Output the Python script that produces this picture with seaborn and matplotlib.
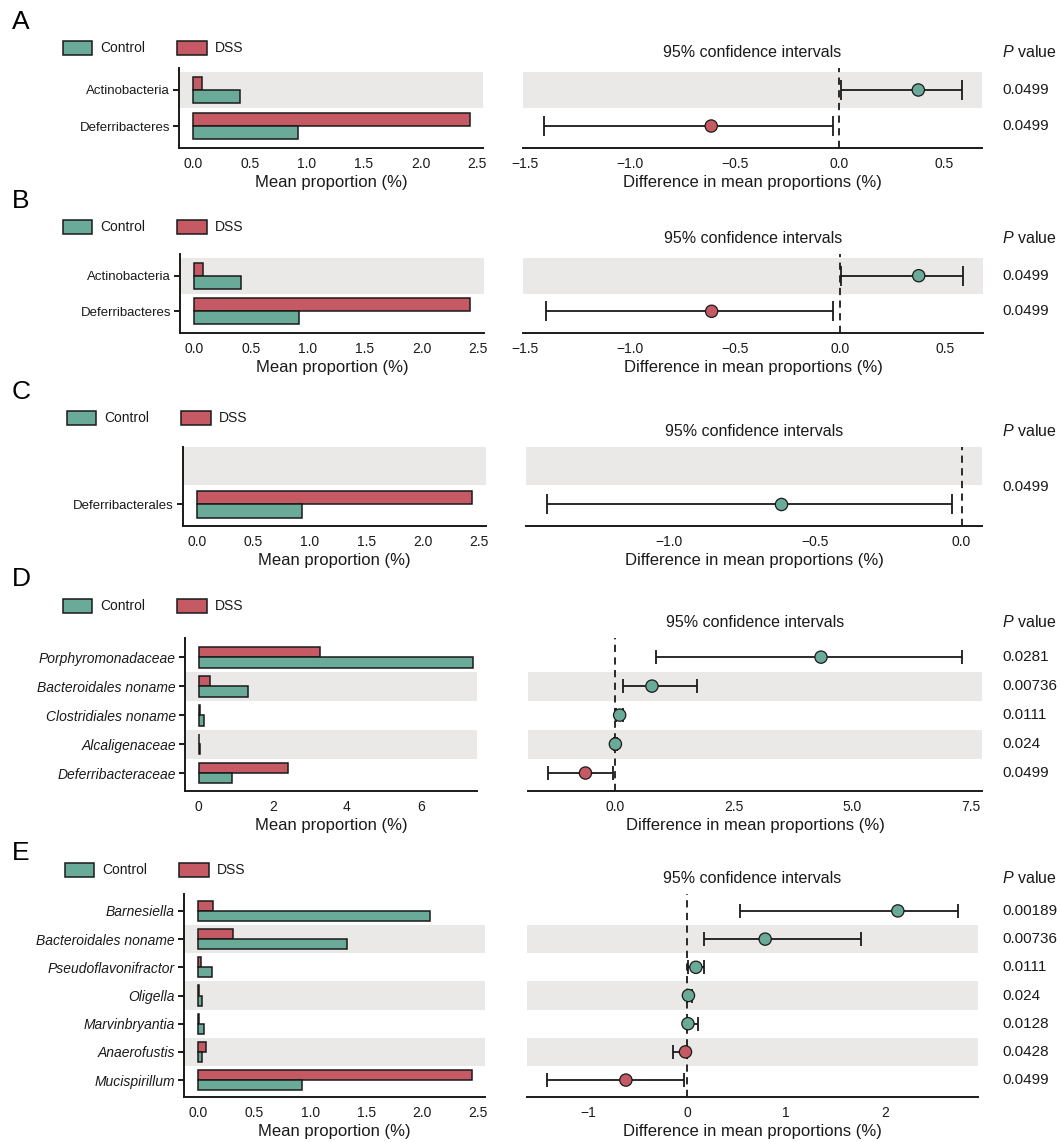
import numpy as np
import pandas as pd
import matplotlib
matplotlib.use("Agg")
import matplotlib.pyplot as plt
import matplotlib.transforms as mtransforms
from matplotlib.patches import Patch
import seaborn as sns

sns.set_theme(style="white")
plt.rcParams["font.family"] = ["Liberation Sans", "DejaVu Sans"]
plt.rcParams["mathtext.fontset"] = "custom"
plt.rcParams["mathtext.it"] = "Liberation Sans:italic"
plt.rcParams["mathtext.rm"] = "Liberation Sans"
plt.rcParams["axes.unicode_minus"] = True

GROUPS = ["Control", "DSS"]
COLORS = {"Control": "#6aaa98", "DSS": "#c55a65"}
BAND = "#ebe8e8"
INK = "#1a1a1a"

# ---- A: phylum level ----
phylum_taxa = ["Actinobacteria", "Deferribacteres"]
phylum_control = [0.41, 0.92]
phylum_dss = [0.08, 2.44]
phylum_diff = [0.376, -0.612]
phylum_ci_low = [0.005, -1.41]
phylum_ci_high = [0.586, -0.033]
phylum_p = ["0.0499", "0.0499"]
phylum_enriched = ["Control", "DSS"]

# ---- B: class level ----
class_taxa = ["Actinobacteria", "Deferribacteres"]
class_control = [0.41, 0.925]
class_dss = [0.08, 2.43]
class_diff = [0.374, -0.612]
class_ci_low = [0.005, -1.40]
class_ci_high = [0.583, -0.035]
class_p = ["0.0499", "0.0499"]
class_enriched = ["Control", "DSS"]

# ---- C: order level ----
order_taxa = ["Deferribacterales"]
order_control = [0.93]
order_dss = [2.44]
order_diff = [-0.617]
order_ci_low = [-1.415]
order_ci_high = [-0.034]
order_p = ["0.0499"]
order_enriched = ["Control"]

# ---- D: family level ----
family_taxa = ["Porphyromonadaceae", "Bacteroidales noname", "Clostridiales noname",
               "Alcaligenaceae", "Deferribacteraceae"]
family_control = [7.40, 1.33, 0.13, 0.04, 0.91]
family_dss = [3.28, 0.31, 0.03, 0.01, 2.42]
family_diff = [4.34, 0.78, 0.10, 0.01, -0.62]
family_ci_low = [0.87, 0.18, 0.02, -0.01, -1.40]
family_ci_high = [7.30, 1.73, 0.18, 0.05, -0.03]
family_p = ["0.0281", "0.00736", "0.0111", "0.024", "0.0499"]
family_enriched = ["Control", "Control", "Control", "Control", "DSS"]

# ---- E: genus level ----
genus_taxa = ["Barnesiella", "Bacteroidales noname", "Pseudoflavonifractor", "Oligella",
              "Marvinbryantia", "Anaerofustis", "Mucispirillum"]
genus_control = [2.07, 1.33, 0.12, 0.03, 0.054, 0.03, 0.925]
genus_dss = [0.128, 0.31, 0.024, 0.009, 0.005, 0.071, 2.44]
genus_diff = [2.13, 0.79, 0.09, 0.015, 0.01, -0.015, -0.617]
genus_ci_low = [0.54, 0.17, 0.01, 0.0, 0.0, -0.145, -1.416]
genus_ci_high = [2.74, 1.76, 0.175, 0.055, 0.11, 0.0, -0.035]
genus_p = ["0.00189", "0.00736", "0.0111", "0.024", "0.0128", "0.0428", "0.0499"]
genus_enriched = ["Control"] * 5 + ["DSS"] * 2

W, H = 1061, 1142
fig = plt.figure(figsize=(W / 100, H / 100), dpi=100)


def px_axes(x0, x1, y0, y1):
    return fig.add_axes([x0 / W, 1 - y1 / H, (x1 - x0) / W, (y1 - y0) / H])


def style_axis(ax, left_spine, ylabel_size=9.5):
    for side in ("top", "right"):
        ax.spines[side].set_visible(False)
    ax.spines["left"].set_visible(left_spine)
    for side in ("left", "bottom"):
        ax.spines[side].set_linewidth(1.4)
        ax.spines[side].set_color(INK)
    ax.tick_params(axis="x", length=4, width=1.3, pad=2.5, labelsize=10,
                   color=INK, labelcolor=INK)
    ax.tick_params(axis="y", length=4.5, width=1.4, pad=2, labelsize=ylabel_size,
                   color=INK, labelcolor=INK, left=left_spine)
    ax.grid(False)


def draw_panel(letter, taxa, control, dss, diff, lo, hi, pvals, enriched, lay, italic=False):
    n_empty = lay.get("empty_rows", 0)
    order = [""] * n_empty + list(taxa)
    nrows = len(order)
    rows = np.arange(n_empty, nrows)
    y0, y1 = lay["y"]
    axl = px_axes(*lay["left"], y0, y1)
    axr = px_axes(*lay["right"], y0, y1)

    # alternating shaded rows
    for ax in (axl, axr):
        for i in range(nrows):
            if (nrows - 1 - i) % 2 == 1:
                ax.axhspan(i - 0.5, i + 0.5, color=BAND, lw=0, zorder=0)

    # mean proportions per group
    df = pd.DataFrame({
        "taxon": list(taxa) * 2,
        "group": ["Control"] * len(taxa) + ["DSS"] * len(taxa),
        "mean": list(control) + list(dss),
    })
    sns.barplot(data=df, x="mean", y="taxon", hue="group", order=order,
                hue_order=["DSS", "Control"], palette=COLORS, orient="h",
                width=0.72, gap=0, saturation=1, edgecolor=INK, linewidth=1.1,
                errorbar=None, legend=False, ax=axl, zorder=2)
    axl.set_xlim(*lay["xl"])
    axl.set_ylim(*lay["ylim"])
    axl.set_xticks(lay["xl_ticks"])
    axl.set_yticks(rows, taxa, fontstyle="italic" if italic else "normal")
    axl.set_ylabel("")
    axl.set_xlabel("Mean proportion (%)", fontsize=12, color=INK, labelpad=3)
    style_axis(axl, True, 10 if italic else 9.5)

    # difference in mean proportions with 95% CI
    diff = np.asarray(diff)
    err = [diff - np.asarray(lo), np.asarray(hi) - diff]
    axr.axvline(0, color=INK, lw=1.3, ls=(0, (4, 3)), zorder=2)
    axr.errorbar(diff, rows, xerr=err, fmt="none", ecolor=INK, elinewidth=1.3,
                 capsize=lay["cap"], capthick=1.3, zorder=3)
    sns.scatterplot(x=diff, y=rows, hue=list(enriched), palette=COLORS, s=78,
                    edgecolor=INK, linewidth=0.9, zorder=4, legend=False, ax=axr)
    axr.set_xlim(*lay["xr"])
    axr.set_ylim(*lay["ylim"])
    axr.set_xticks(lay["xr_ticks"])
    axr.set_yticks([])
    axr.set_ylabel("")
    axr.set_xlabel("Difference in mean proportions (%)", fontsize=12, color=INK, labelpad=3)
    style_axis(axr, False)
    axr.annotate("95% confidence intervals", xy=(0.5, 1), xycoords="axes fraction",
                 xytext=(0, 11.5), textcoords="offset points", ha="center", va="center",
                 fontsize=11.5, color=INK)

    # p values column
    tr = mtransforms.blended_transform_factory(fig.transFigure, axr.transData)
    p_shift = lay.get("p_shift", 0.0)
    for r, p in zip(rows, pvals):
        axr.text(1002 / W, r + p_shift, p, transform=tr, ha="left", va="center",
                 fontsize=11, color=INK)
    fig.text(1002 / W, 1 - (y0 - 16) / H, r"$\mathit{P}$ value", ha="left", va="center",
             fontsize=11.5, color=INK)

    # panel letter and legend
    fig.text(12 / W, 1 - lay["letter_y"] / H, letter, fontsize=19, ha="left", va="center",
             color="black")
    handles = [Patch(facecolor=COLORS[g], edgecolor=INK, linewidth=1.1, label=g) for g in GROUPS]
    fig.legend(handles=handles, loc="center left",
               bbox_to_anchor=(lay["legend_x"] / W, 1 - lay["legend_y"] / H),
               ncol=2, frameon=False, fontsize=10, handlelength=2.1, handleheight=1.2,
               handletextpad=0.6, columnspacing=2.3, borderpad=0, borderaxespad=0,
               labelcolor=INK)


tick25 = [0.0, 0.5, 1.0, 1.5, 2.0, 2.5]

layouts = {
    "A": dict(left=(179, 483), right=(523, 982), y=(68, 148), ylim=(1.61, -0.61),
              xl=(-0.123, 2.55), xr=(-1.51, 0.68), xl_ticks=tick25,
              xr_ticks=[-1.5, -1.0, -0.5, 0.0, 0.5], cap=7.5,
              letter_y=22, legend_x=63, legend_y=48),
    "B": dict(left=(180, 484), right=(523, 983), y=(254, 333), ylim=(1.61, -0.61),
              xl=(-0.123, 2.55), xr=(-1.51, 0.68), xl_ticks=tick25,
              xr_ticks=[-1.5, -1.0, -0.5, 0.0, 0.5], cap=7.5,
              letter_y=201, legend_x=63, legend_y=227),
    "C": dict(left=(183, 486), right=(526, 982), y=(447, 526), ylim=(1.57, -0.5),
              xl=(-0.124, 2.56), xr=(-1.488, 0.07), xl_ticks=tick25,
              xr_ticks=[-1.0, -0.5, 0.0], cap=7.5, empty_rows=1, p_shift=-0.44,
              letter_y=392, legend_x=67, legend_y=418),
    "D": dict(left=(185, 477), right=(528, 982), y=(638, 791), ylim=(4.62, -0.66),
              xl=(-0.37, 7.51), xr=(-1.83, 7.73), xl_ticks=[0, 2, 4, 6],
              xr_ticks=[0.0, 2.5, 5.0, 7.5], cap=5,
              letter_y=579, legend_x=63, legend_y=606),
    "E": dict(left=(184, 485), right=(527, 978), y=(894, 1097), ylim=(6.6, -0.6),
              xl=(-0.128, 2.56), xr=(-1.616, 2.94), xl_ticks=tick25,
              xr_ticks=[-1, 0, 1, 2], cap=5,
              letter_y=853, legend_x=65, legend_y=870),
}

draw_panel("A", phylum_taxa, phylum_control, phylum_dss, phylum_diff, phylum_ci_low,
           phylum_ci_high, phylum_p, phylum_enriched, layouts["A"])
draw_panel("B", class_taxa, class_control, class_dss, class_diff, class_ci_low,
           class_ci_high, class_p, class_enriched, layouts["B"])
draw_panel("C", order_taxa, order_control, order_dss, order_diff, order_ci_low,
           order_ci_high, order_p, order_enriched, layouts["C"])
draw_panel("D", family_taxa, family_control, family_dss, family_diff, family_ci_low,
           family_ci_high, family_p, family_enriched, layouts["D"], italic=True)
draw_panel("E", genus_taxa, genus_control, genus_dss, genus_diff, genus_ci_low,
           genus_ci_high, genus_p, genus_enriched, layouts["E"], italic=True)

# integer formatting for the genus CI axis
fig.axes[-1].set_xticklabels(["\u22121", "0", "1", "2"])

fig.savefig("out.png", dpi=100, facecolor="white")
